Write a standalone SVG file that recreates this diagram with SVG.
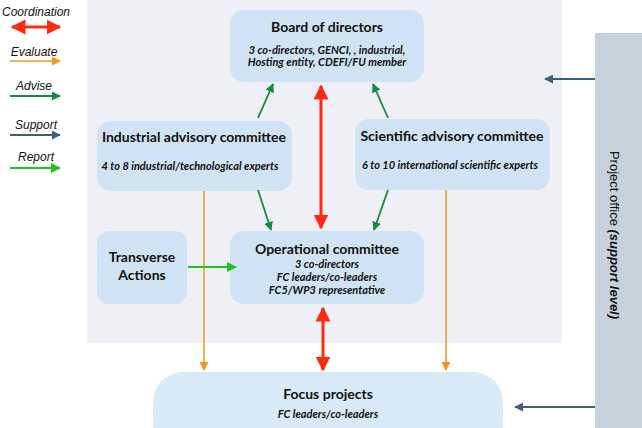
<svg xmlns="http://www.w3.org/2000/svg" width="642" height="428" viewBox="0 0 642 428">
<defs>
<style>
.box{fill:#cfe3f4}
.t{font-family:Lato,"Open Sans",sans-serif;font-weight:bold;font-size:14px;fill:#111;text-anchor:middle}
.s{font-family:Lato,"Open Sans",sans-serif;font-weight:bold;font-style:italic;font-size:11px;fill:#111;text-anchor:middle}
.lg{font-family:"Liberation Sans",Arial,sans-serif;font-style:italic;font-size:12px;fill:#111;text-anchor:middle}
.red{stroke:#ff2a10;stroke-width:3;fill:none}
.org{stroke:#f7941d;stroke-width:1.5;fill:none}
.adv{stroke:#138a3c;stroke-width:1.8;fill:none}
.sup{stroke:#3a5f82;stroke-width:1.8;fill:none}
.rep{stroke:#1ec41e;stroke-width:2;fill:none}
</style>
<marker id="mr" viewBox="0 0 10 10" refX="9" refY="5" markerWidth="5" markerHeight="5" orient="auto-start-reverse" markerUnits="strokeWidth"><path d="M0,0 L10,5 L0,10 z" fill="#ff2a10"/></marker>
<marker id="mo" viewBox="0 0 10 10" refX="9" refY="5" markerWidth="6" markerHeight="6" orient="auto" markerUnits="strokeWidth"><path d="M0,0 L10,5 L0,10 z" fill="#f7941d"/></marker>
<marker id="ma" viewBox="0 0 10 10" refX="9" refY="5" markerWidth="5" markerHeight="5" orient="auto" markerUnits="strokeWidth"><path d="M0,0 L10,5 L0,10 z" fill="#138a3c"/></marker>
<marker id="ms" viewBox="0 0 10 10" refX="9" refY="5" markerWidth="5" markerHeight="5" orient="auto" markerUnits="strokeWidth"><path d="M0,0 L10,5 L0,10 z" fill="#3a5f82"/></marker>
<marker id="mp" viewBox="0 0 10 10" refX="9" refY="5" markerWidth="5" markerHeight="5" orient="auto" markerUnits="strokeWidth"><path d="M0,0 L10,5 L0,10 z" fill="#1ec41e"/></marker>
</defs>
<rect width="642" height="428" fill="#ffffff"/>
<rect x="87" y="0" width="475" height="343" fill="#eef0f6"/>
<g id="project-office">
<rect x="595" y="33" width="47" height="395" fill="#c6d1dc"/>
<text transform="translate(610,235) rotate(90)" font-family="'Liberation Sans',Arial,sans-serif" font-size="13" fill="#111" text-anchor="middle">Project office <tspan font-weight="bold" font-style="italic">(support level)</tspan></text>
</g>
<g id="legend">
<text class="lg" x="36" y="16">Coordination</text>
<line class="red" x1="12" y1="27" x2="60" y2="27" marker-start="url(#mr)" marker-end="url(#mr)"/>
<text class="lg" x="34" y="56">Evaluate</text>
<line class="org" x1="10" y1="61" x2="60" y2="61" marker-end="url(#mo)"/>
<text class="lg" x="34" y="90">Advise</text>
<line class="adv" x1="10" y1="96" x2="60" y2="96" marker-end="url(#ma)"/>
<text class="lg" x="36" y="129">Support</text>
<line class="sup" x1="10" y1="135" x2="60" y2="135" marker-end="url(#ms)"/>
<text class="lg" x="36" y="161">Report</text>
<line class="rep" x1="10" y1="168" x2="60" y2="168" marker-end="url(#mp)"/>
</g>
<g id="board">
<rect class="box" x="230" y="10" width="194" height="72" rx="14"/>
<text class="t" x="327" y="32">Board of directors</text>
<text class="s" x="327" y="54">3 co-directors, GENCI, , industrial,</text>
<text class="s" x="327" y="66">Hosting entity, CDEFI/FU member</text>
</g>
<g id="industrial">
<rect class="box" x="97" y="121" width="195" height="70" rx="14"/>
<text class="t" x="194" y="142">Industrial advisory committee</text>
<text class="s" x="190" y="170">4 to 8 industrial/technological experts</text>
</g>
<g id="scientific">
<rect class="box" x="355" y="119" width="195" height="71" rx="14"/>
<text class="t" x="452" y="141">Scientific advisory committee</text>
<text class="s" x="450" y="169">6 to 10 international scientific experts</text>
</g>
<g id="transverse">
<rect class="box" x="97" y="231" width="90" height="73" rx="12"/>
<text class="t" x="142" y="262">Transverse</text>
<text class="t" x="142" y="280">Actions</text>
</g>
<g id="operational">
<rect class="box" x="230" y="231" width="194" height="73" rx="14"/>
<text class="t" x="327" y="254">Operational committee</text>
<text class="s" x="327" y="268">3 co-directors</text>
<text class="s" x="327" y="281">FC leaders/co-leaders</text>
<text class="s" x="327" y="294">FC5/WP3 representative</text>
</g>
<g id="focus">
<rect x="153" y="372" width="350" height="80" rx="30" fill="#d8eaf8"/>
<text class="t" x="328" y="399">Focus projects</text>
<text class="s" x="328" y="418">FC leaders/co-leaders</text>
</g>
<g id="connectors">
<line class="red" x1="321" y1="86" x2="321" y2="228" marker-start="url(#mr)" marker-end="url(#mr)"/>
<line class="red" x1="323" y1="308" x2="323" y2="370" marker-start="url(#mr)" marker-end="url(#mr)"/>
<line class="adv" x1="258" y1="118" x2="273" y2="84" marker-end="url(#ma)"/>
<line class="adv" x1="388" y1="118" x2="373" y2="84" marker-end="url(#ma)"/>
<line class="adv" x1="258" y1="190" x2="271" y2="230" marker-end="url(#ma)"/>
<line class="adv" x1="388" y1="190" x2="374" y2="230" marker-end="url(#ma)"/>
<line class="org" x1="204" y1="191" x2="204" y2="370" marker-end="url(#mo)"/>
<line class="org" x1="446" y1="190" x2="446" y2="370" marker-end="url(#mo)"/>
<line class="rep" x1="188" y1="267" x2="236" y2="267" marker-end="url(#mp)"/>
<line class="sup" x1="595" y1="79" x2="545" y2="79" marker-end="url(#ms)"/>
<line class="sup" x1="595" y1="407" x2="515" y2="407" marker-end="url(#ms)"/>
</g>
</svg>
